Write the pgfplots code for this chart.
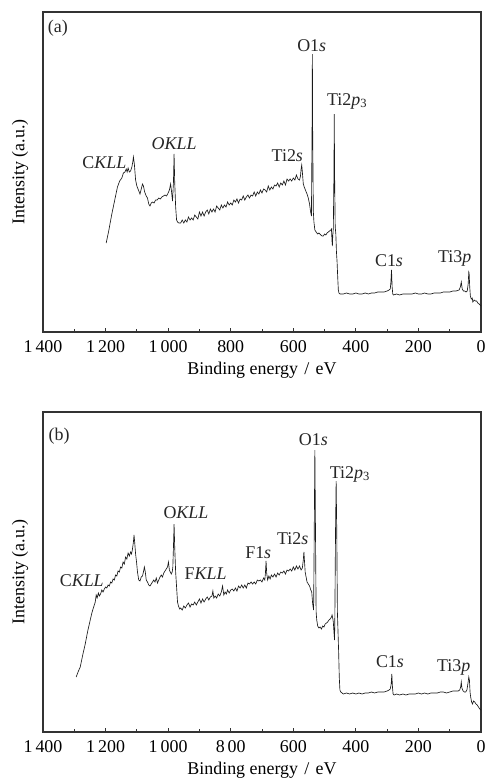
\documentclass[border=0pt]{standalone}
\usepackage{pgfplots}
\pgfplotsset{compat=1.18}
\usepackage{pgfplotstable}
\usepackage{fontspec}
\setmainfont{Liberation Serif}

% XPS survey spectrum, sample (a): binding energy (eV), intensity (a.u.)
\pgfplotstableread{
E I
1198 89
1190 101
1180 118
1170 133
1162 145
1155 151
1148 154
1143 159
1138 160
1134 163
1131 160
1128 164
1124 160
1120 161
1116 165
1113 170
1111 175
1108 168
1104 152
1100 146
1095 142
1090 138
1086 143
1082 148
1079 146
1075 140
1070 136
1066 134
1062 128
1058 126
1054 129
1050 130
1045 129
1040 132
1035 132
1030 134
1025 133
1020 135
1015 136
1010 137
1005 136
1000 139
996 142
992 148
989 140
986 131
983 150
981 178
979 150
976 125
973 112
970 110
966 109
960 109
955 112
950 109
945 112
940 110
935 115
930 112
925 114
920 112
915 117
910 115
905 113
900 120
895 116
890 120
885 116
880 120
875 122
870 118
865 123
860 120
855 123
850 120
845 126
840 124
835 122
830 127
825 124
820 127
815 125
810 130
805 127
800 129
795 127
790 132
785 130
780 133
775 129
770 133
765 132
760 136
755 132
750 135
745 137
740 134
735 137
730 136
725 140
720 136
715 140
710 138
705 142
700 139
695 143
690 142
685 140
680 146
675 142
670 145
665 143
660 147
655 146
650 149
645 145
640 149
635 147
630 151
625 147
620 153
615 151
610 153
605 151
600 154
595 152
590 157
585 153
580 152
577 156
575 163
573 167
571 160
568 148
565 145
560 141
556 138
552 134
548 128
545 121
542 116
540 200
539 278
538 200
536 121
534 110
531 102
527 100
522 98
518 99
512 97
508 96
504 96
500 98
496 97
492 99
488 100
484 101
480 102
478 103
476 90
475 86
474 95
472 104
470 160
469 218
468 160
466 105
464 98
462 80
460 70
458 55
456 42
454 39
450 38
440 38
430 39
420 38
410 38
400 39
390 38
380 38
370 39
360 38
350 39
340 39
330 40
320 40
310 40
300 41
294 42
290 43
288 50
286 62
284 45
282 38
280 37
270 38
260 37
250 38
240 38
230 38
220 38
210 39
200 38
190 38
180 39
170 38
160 38
150 39
140 39
130 39
120 40
110 40
100 40
90 41
80 41
70 42
66 45
63 50
60 43
56 41
52 41
48 40
44 41
41 48
39 60
38 59
36 45
34 36
31 33
28 34
26 30
22 32
18 31
14 31
10 29
6 28
3 27
0 26
}\spectrumA

% XPS survey spectrum, sample (b)
\pgfplotstableread{
E I
1294 55
1288 60
1281 65
1273 77
1265 88
1257 101
1249 112
1243 120
1238 125
1233 130
1230 137
1227 134
1223 139
1220 136
1216 138
1212 142
1208 140
1204 143
1200 145
1196 144
1192 147
1188 146
1184 150
1180 149
1176 153
1172 152
1168 157
1164 156
1160 161
1156 160
1152 165
1148 164
1144 170
1140 168
1136 175
1132 173
1128 179
1124 176
1120 180
1117 178
1114 183
1111 190
1109 197
1107 190
1104 178
1101 170
1098 160
1094 152
1090 151
1086 155
1082 156
1079 160
1076 165
1073 160
1070 152
1066 150
1062 147
1058 146
1054 148
1050 150
1046 152
1042 150
1038 154
1034 149
1030 152
1026 155
1022 157
1018 155
1014 159
1010 161
1006 163
1002 165
999 170
996 162
993 160
990 158
987 160
985 165
983 185
981 208
979 185
976 160
973 145
970 130
967 126
963 123
960 124
955 122
950 126
945 124
940 127
935 129
930 125
925 128
920 127
915 130
910 127
905 130
900 133
895 129
890 133
885 130
880 133
875 135
870 132
865 135
860 136
857 141
854 134
850 136
845 134
840 138
835 136
830 140
826 146
822 137
818 140
814 138
810 142
805 139
800 142
795 143
790 141
785 144
780 141
775 146
770 144
765 147
760 144
755 147
750 144
745 149
740 148
735 150
730 148
725 150
720 148
715 152
710 151
705 152
700 150
695 154
691 152
689 159
687 171
685 159
682 152
678 156
674 153
670 157
665 155
660 158
655 155
650 159
645 157
640 160
635 159
630 161
625 158
620 162
615 161
610 163
605 161
600 165
595 162
590 166
585 163
580 166
575 162
571 164
568 172
566 180
564 170
562 160
559 155
556 150
552 148
548 146
544 142
541 140
538 128
535 122
533 200
531 282
529 200
527 120
525 112
522 106
518 104
514 105
510 103
506 106
502 105
498 108
494 109
490 110
486 112
482 113
478 115
476 117
474 114
472 110
470 100
468 92
467 120
465 200
463 251
461 200
459 120
457 100
455 80
453 55
451 42
448 40
440 38
430 39
420 38
410 39
400 38
390 39
380 38
370 39
360 39
350 40
340 39
330 40
320 40
310 40
300 41
294 42
290 43
287 48
285 58
283 45
281 38
278 37
270 38
260 37
250 38
240 37
230 38
220 38
210 38
200 39
190 38
180 39
170 38
160 39
150 39
140 39
130 40
120 40
110 39
100 40
90 41
80 41
73 41
68 42
65 45
63 50
61 44
57 41
53 40
49 40
45 42
42 48
39 55
37 52
35 40
33 35
30 30
27 28
24 31
20 30
16 28
12 27
8 25
4 23
0 22
}\spectrumB

\pgfplotsset{
  xpspanel/.style={
    scale only axis,
    width=438bp, height=320bp,
    xmin=0, xmax=1400, ymin=0, ymax=320,
    x dir=reverse,
    xtick={0,200,...,1400},
    minor x tick num=1,
    ytick=\empty,
    xtick pos=bottom,
    tick align=inside,
    major tick length=4bp,
    minor tick length=3bp,
    axis line style={line width=1.1pt, black!80},
    every tick/.style={black!80, line width=0.8pt},
    xlabel={Binding energy\hspace{0.35em}/\hspace{0.35em}eV},
    ylabel={Intensity (a.u.)},
    every axis x label/.style={at={(axis description cs:0.5,0)}, yshift=-38bp, anchor=center},
    every axis y label/.style={at={(axis description cs:-0.0525,0.5)}, rotate=90, anchor=center},
    xticklabel style={yshift=-2bp},
    clip=false,
  },
  spec/.style={black!90, line width=0.65pt, no marks},
}
\tikzset{pk/.style={anchor=center, text=black!85}}

\begin{document}
\fontsize{18}{21}\selectfont
\begin{tikzpicture}
\useasboundingbox (0,0) rectangle (485bp,-779bp);

% panel (a)
\begin{axis}[xpspanel, at={(43bp,-332bp)}, anchor=south west,
  xticklabels={0,200,400,600,800,1\,000,1\,200,1\,400}]
  \addplot[spec] table[x=E, y=I] {\spectrumA};
  \node[pk] at (axis description cs:0.034,0.95) {(a)};
  \node[pk] at (axis cs:541,286) {O1\textit{s}};
  \node[pk] at (axis cs:428,231) {Ti2\textit{p}\textsubscript{3}};
  \node[pk] at (axis cs:981,188) {\textit{OKLL}};
  \node[pk] at (axis cs:1204,169) {C\textit{KLL}};
  \node[pk] at (axis cs:619,176) {Ti2\textit{s}};
  \node[pk] at (axis cs:294,71) {C1\textit{s}};
  \node[pk] at (axis cs:84,74) {Ti3\textit{p}};
\end{axis}

% panel (b)
\begin{axis}[xpspanel, at={(43bp,-732bp)}, anchor=south west,
  xticklabels={0,200,400,600,8\,00,1\,000,1\,200,1\,400}]
  \addplot[spec] table[x=E, y=I] {\spectrumB};
  \node[pk] at (axis description cs:0.037,0.925) {(b)};
  \node[pk] at (axis cs:536,292) {O1\textit{s}};
  \node[pk] at (axis cs:419,258) {Ti2\textit{p}\textsubscript{3}};
  \node[pk] at (axis cs:943,219) {O\textit{KLL}};
  \node[pk] at (axis cs:602,193) {Ti2\textit{s}};
  \node[pk] at (axis cs:712,179) {F1\textit{s}};
  \node[pk] at (axis cs:880,158) {F\textit{KLL}};
  \node[pk] at (axis cs:1276,151) {C\textit{KLL}};
  \node[pk] at (axis cs:291,70) {C1\textit{s}};
  \node[pk] at (axis cs:87,65) {Ti3\textit{p}};
\end{axis}
\end{tikzpicture}
\end{document}
